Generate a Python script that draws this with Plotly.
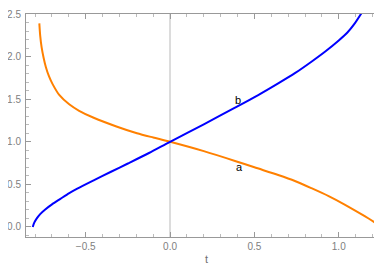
import plotly.graph_objects as go

# orange curve "a"
a_t = [-0.775, -0.770, -0.7615, -0.750, -0.736, -0.718, -0.697, -0.657, -0.598, -0.539, -0.456, -0.318, -0.196, -0.1, 0.0, 0.2, 0.385, 0.5, 0.641, 0.74, 0.838, 0.94, 1.035, 1.154, 1.256]
a_v = [2.39, 2.25, 2.11, 1.99, 1.875, 1.77, 1.68, 1.55, 1.44, 1.364, 1.285, 1.18, 1.10, 1.05, 1.0, 0.89, 0.775, 0.70, 0.61, 0.54, 0.455, 0.362, 0.263, 0.126, 0.0]

# blue curve "b"
b_t = [-0.814, -0.805, -0.79, -0.77, -0.74, -0.70, -0.65, -0.60, -0.55, -0.45, -0.35, -0.25, -0.125, 0.0, 0.2, 0.385, 0.52, 0.641, 0.74, 0.838, 0.92, 1.0, 1.05, 1.095, 1.138]
b_v = [0.0, 0.05, 0.10, 0.15, 0.205, 0.265, 0.33, 0.395, 0.45, 0.55, 0.648, 0.745, 0.868, 1.0, 1.205, 1.40, 1.545, 1.685, 1.805, 1.94, 2.06, 2.19, 2.28, 2.39, 2.52]

x_ticks = [-0.5, 0.0, 0.5, 1.0]
x_labels = ["\u22120.5", "0.0", "0.5", "1.0"]
y_ticks = [0.0, 0.5, 1.0, 1.5, 2.0, 2.5]
y_labels = ["0.0", "0.5", "1.0", "1.5", "2.0", "2.5"]

fig = go.Figure()
fig.add_trace(go.Scatter(x=a_t, y=a_v, mode="lines", line=dict(color="#FF8000", width=2, shape="spline", smoothing=0.7), showlegend=False))
fig.add_trace(go.Scatter(x=b_t, y=b_v, mode="lines", line=dict(color="#0000FF", width=2, shape="spline", smoothing=0.7), showlegend=False))

fig.add_annotation(x=0.41, y=0.70, text="a", showarrow=False, font=dict(family="Liberation Sans", size=11, color="black"))
fig.add_annotation(x=0.40, y=1.49, text="b", showarrow=False, font=dict(family="Liberation Sans", size=11, color="black"))

tickfont = dict(family="Liberation Sans", size=10, color="#808080")
fig.update_layout(
    width=382, height=268,
    margin=dict(l=18, r=3, t=6, b=39),
    plot_bgcolor="white", paper_bgcolor="white",
    xaxis=dict(range=[-0.854, 1.286], tickvals=x_ticks, ticktext=x_labels, automargin=False,
               showgrid=False, zeroline=True, zerolinecolor="#dcdcdc", zerolinewidth=1.5,
               showline=True, linecolor="#999999", linewidth=1, mirror="ticks",
               ticks="inside", ticklen=5, tickcolor="#999999",
               minor=dict(ticks="inside", dtick=0.1, ticklen=3, tickcolor="#bbbbbb", showgrid=False),
               tickfont=tickfont,
               title=dict(text="t", font=dict(family="Liberation Sans", size=11, color="#707070"), standoff=4)),
    yaxis=dict(range=[-0.118, 2.5], tickvals=y_ticks, ticktext=y_labels, automargin=False,
               showgrid=False, zeroline=False,
               showline=True, linecolor="#999999", linewidth=1, mirror="ticks",
               ticks="inside", ticklen=5, tickcolor="#999999",
               minor=dict(ticks="inside", dtick=0.1, ticklen=3, tickcolor="#bbbbbb", showgrid=False),
               tickfont=tickfont, ticklabelstandoff=2),
)
fig.write_html("out.html")
